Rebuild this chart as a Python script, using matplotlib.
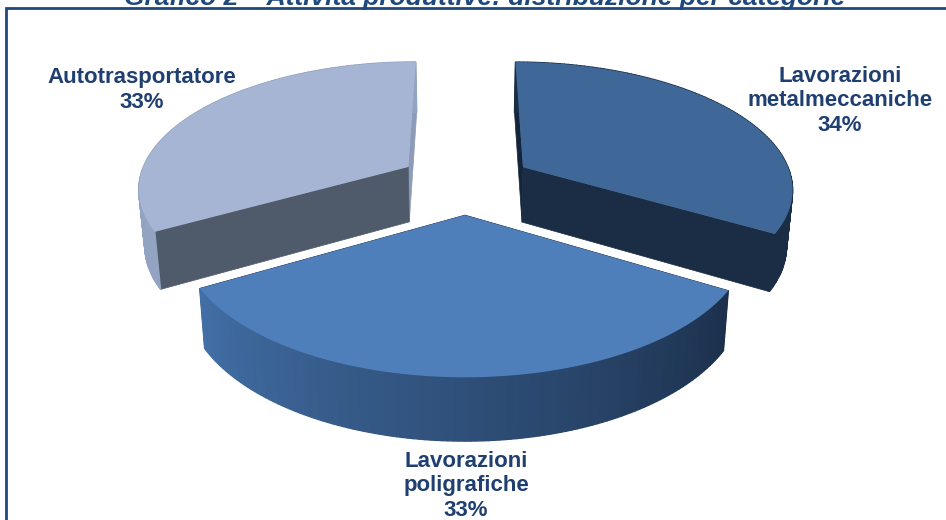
import numpy as np
import matplotlib
matplotlib.use('Agg')
import matplotlib.pyplot as plt
from matplotlib.colors import to_rgb

# dati
categorie = ['Lavorazioni\nmetalmeccaniche', 'Lavorazioni\npoligrafiche', 'Autotrasportatore']
valori = [33.5, 33.25, 33.25]
titolo = 'Grafico 2 – Attività produttive: distribuzione per categorie'

# colori: faccia sopra, taglio anteriore, taglio posteriore, parete (inizio, fine)
col_sopra = ['#3f6899', '#4e7fba', '#a7b5d5']
col_taglio = ['#1a2d45', '#1a2d45', '#4f5a6b']
col_retro = ['#14243a', '#14243a', '#8d9bb8']
col_parete = [('#1a2d45', '#1a2d45'), ('#426fa6', '#1c304c'), ('#93a3c2', '#93a3c2')]

blu = '#1f497d'
blu_testo = '#1f3f70'

# geometria del piano (prospettiva) in pixel
cx = 465.5
sopra = dict(R=270, A=125.7, oy=182.4)
sotto = dict(R=265, A=131, oy=238)
p = 0.155
esplodi = 0.25


def proietta(u, v, piano):
    w = 1 + p * v
    return cx + piano['R'] * u / w, piano['oy'] - piano['A'] * v / w


fig = plt.figure(figsize=(9.46, 5.2), dpi=100)
ax = fig.add_axes([0, 0, 1, 1])
ax.set_xlim(0, 946)
ax.set_ylim(520, 0)
ax.axis('off')

# cornice
ax.plot([6, 6, 946], [520, 8, 8], color=blu, lw=2, solid_joinstyle='miter')

# angoli delle fette, in senso orario dalle 12
confini = 90 - np.cumsum([0] + valori) / sum(valori) * 360
ordine = [0, 2, 1]  # prima quelle dietro

for i in ordine:
    a0, a1 = np.radians(confini[i]), np.radians(confini[i + 1])
    medio = (a0 + a1) / 2
    du, dv = esplodi * np.cos(medio), esplodi * np.sin(medio)
    ang = np.linspace(a0, a1, 120)
    u = du + np.cos(ang)
    v = dv + np.sin(ang)
    xs, ys = proietta(u, v, sopra)
    xb, yb = proietta(u, v, sotto)
    x0s, y0s = proietta(du, dv, sopra)
    x0b, y0b = proietta(du, dv, sotto)

    # tagli verso il centro
    if i == 2:
        retro, fronte = -1, 0
    else:
        retro, fronte = 0, -1
    ax.fill([x0s, xs[retro], xb[retro], x0b], [y0s, ys[retro], yb[retro], y0b],
            color=col_retro[i], lw=0.5)
    ax.fill([x0s, xs[fronte], xb[fronte], x0b], [y0s, ys[fronte], yb[fronte], y0b],
            color=col_taglio[i], lw=0.5)

    # parete esterna a spicchi per la sfumatura
    c1, c2 = np.array(to_rgb(col_parete[i][0])), np.array(to_rgb(col_parete[i][1]))
    if i == 1:
        c1, c2 = c2, c1  # va da destra a sinistra
    for k in range(len(ang) - 1):
        t = k / (len(ang) - 2)
        col = c1 + (c2 - c1) * t
        ax.fill([xs[k], xs[k + 1], xb[k + 1], xb[k]], [ys[k], ys[k + 1], yb[k + 1], yb[k]],
                color=col, lw=1)

    ax.fill(np.r_[x0s, xs], np.r_[y0s, ys], color=col_sopra[i], lw=0)

# testi
font = ['Liberation Sans', 'DejaVu Sans']
ax.text(485, 5, titolo, ha='center', va='baseline', fontsize=19, fontweight='bold',
        fontstyle='italic', color=blu, family=font)

pos_etichette = [(840, 101), (466, 486), (142, 90)]
for nome, val, (x, y) in zip(categorie, valori, pos_etichette):
    ax.text(x, y, f'{nome}\n{val:.0f}%', ha='center', va='center', fontsize=16,
            fontweight='bold', color=blu_testo, family=font, linespacing=1.24)

fig.savefig('out.png', dpi=100)
